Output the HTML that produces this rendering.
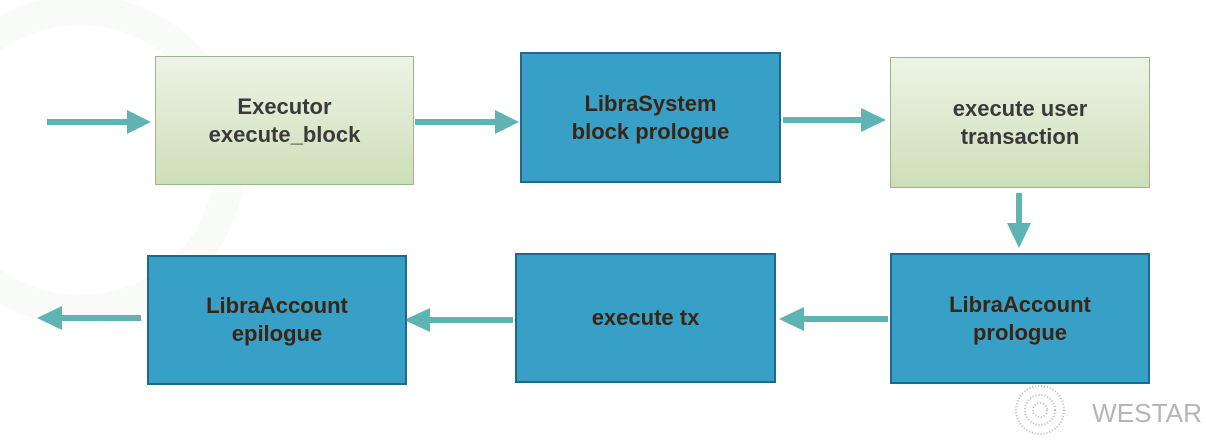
<!DOCTYPE html>
<html><head><meta charset="utf-8"><style>
body{margin:0;width:1206px;height:442px;background:#fff;position:relative;overflow:hidden;font-family:"Liberation Sans",sans-serif}
.b{position:absolute;box-sizing:border-box;display:flex;align-items:center;justify-content:center;text-align:center;font-weight:bold;font-size:22px;line-height:28px}
.g{background:linear-gradient(#edf3e6,#cddfb8);border:1px solid #9db886;color:#3a3a3a}
.u{background:#389fc7;border:2px solid #1f6a8c;color:#3a2414}
svg{position:absolute;left:0;top:0}
</style></head><body>
<svg width="1206" height="442">
<circle cx="80" cy="160" r="150" fill="none" stroke="#f9fbf9" stroke-width="30"/>
<g fill="#5fb3b3" stroke="none">
<rect x="47" y="119" width="82" height="6"/><polygon points="127,110 151,122 127,134"/>
<rect x="415" y="119" width="82" height="6"/><polygon points="495,110 519,122 495,134"/>
<rect x="783" y="117" width="80" height="6"/><polygon points="861,108 886,120 861,132"/>
<rect x="1016" y="193" width="6" height="32"/><polygon points="1007,223 1031,223 1019,248"/>
<rect x="802" y="316" width="86" height="6"/><polygon points="804,307 779,319 804,331"/>
<rect x="428" y="317" width="85" height="6"/><polygon points="430,308 404,320 430,332"/>
<rect x="60" y="315" width="81" height="6"/><polygon points="62,306 37,318 62,330"/>
</g>
<g fill="none" stroke="#b8b8b8" stroke-width="2" stroke-dasharray="1 2">
<circle cx="1040" cy="410" r="24"/><circle cx="1040" cy="410" r="15"/><circle cx="1040" cy="410" r="7"/>
</g>
<text x="1092" y="422" font-family="Liberation Sans" font-size="26" fill="#b5b5b5" textLength="110" lengthAdjust="spacingAndGlyphs">WESTAR</text>
</svg>
<div class="b g" style="left:155px;top:56px;width:259px;height:129px">Executor<br>execute_block</div>
<div class="b u" style="left:520px;top:52px;width:261px;height:131px">LibraSystem<br>block prologue</div>
<div class="b g" style="left:890px;top:57px;width:260px;height:131px">execute user<br>transaction</div>
<div class="b u" style="left:890px;top:253px;width:260px;height:131px">LibraAccount<br>prologue</div>
<div class="b u" style="left:515px;top:253px;width:261px;height:130px">execute tx</div>
<div class="b u" style="left:147px;top:255px;width:260px;height:130px">LibraAccount<br>epilogue</div>
</body></html>
